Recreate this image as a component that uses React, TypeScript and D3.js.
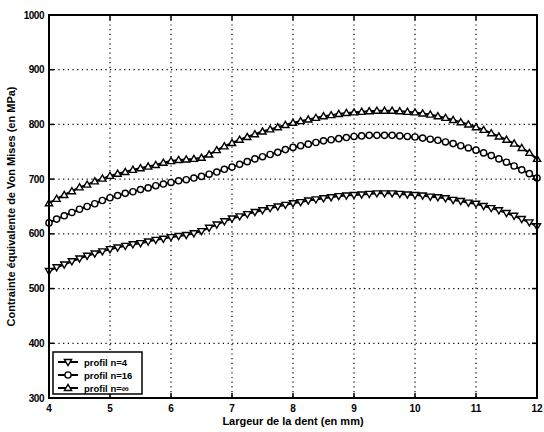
import React from "react";
import * as d3 from "d3";

const xValues: number[] = [
  4.0, 4.125, 4.25, 4.375, 4.5, 4.625, 4.75, 4.875,
  5.0, 5.125, 5.25, 5.375, 5.5, 5.625, 5.75, 5.875,
  6.0, 6.125, 6.25, 6.375, 6.5, 6.625, 6.75, 6.875,
  7.0, 7.125, 7.25, 7.375, 7.5, 7.625, 7.75, 7.875,
  8.0, 8.125, 8.25, 8.375, 8.5, 8.625, 8.75, 8.875,
  9.0, 9.125, 9.25, 9.375, 9.5, 9.625, 9.75, 9.875,
  10.0, 10.125, 10.25, 10.375, 10.5, 10.625, 10.75, 10.875,
  11.0, 11.125, 11.25, 11.375, 11.5, 11.625, 11.75, 11.875,
  12.0,
];

const profilN4: number[] = [
  532, 539, 544, 550, 555, 560, 564, 568,
  572, 575, 578, 581, 583, 586, 589, 591,
  594, 596, 598, 601, 605, 611, 617, 623,
  628, 632, 636, 640, 643, 647, 650, 653,
  656, 658, 661, 663, 665, 667, 669, 670,
  671, 672, 673, 674, 674, 674, 673, 672,
  671, 670, 668, 667, 665, 662, 660, 657,
  655, 651, 647, 643, 638, 633, 627, 621,
  614,
];

const profilN16: number[] = [
  620, 627, 633, 639, 645, 650, 655, 661,
  666, 670, 674, 677, 681, 684, 688, 691,
  694, 697, 699, 702, 705, 709, 713, 718,
  722, 727, 732, 737, 741, 745, 749, 754,
  758, 761, 764, 767, 770, 772, 774, 776,
  778, 779, 780, 780, 780, 780, 779, 778,
  777, 775, 773, 771, 768, 765, 761, 757,
  753, 748, 743, 737, 731, 724, 717, 710,
  702,
];

const profilNInf: number[] = [
  656, 664, 671, 678, 685, 690, 696, 701,
  706, 710, 713, 717, 720, 723, 726, 730,
  733, 735, 736, 737, 739, 745, 753, 760,
  766, 772, 777, 782, 787, 791, 795, 799,
  803, 806, 809, 812, 815, 817, 819, 821,
  822, 823, 824, 825, 825, 825, 824, 823,
  822, 820, 818, 815, 812, 808, 804, 800,
  795, 790, 784, 778, 772, 765, 757, 748,
  737,
];

const xTicks: number[] = [4, 5, 6, 7, 8, 9, 10, 11, 12];
const yTicks: number[] = [300, 400, 500, 600, 700, 800, 900, 1000];
const seriesLabels: string[] = ["profil n=4", "profil n=16", "profil n=\u221E"];
const markerKinds: string[] = ["down", "circle", "up"];

const W = 544;
const H = 432;
const M = { left: 49, right: 537, top: 15, bottom: 398 };
const FONT = "'Liberation Sans', Arial, Helvetica, sans-serif";

function Marker({ kind, x, y }: { kind: string; x: number; y: number }) {
  const s = 3.6;
  if (kind === "circle") {
    return <circle cx={x} cy={y} r={3.1} fill="white" stroke="black" strokeWidth={1.4} />;
  }
  const pts =
    kind === "up"
      ? [[x, y - s], [x - s, y + s * 0.7], [x + s, y + s * 0.7]]
      : [[x, y + s], [x - s, y - s * 0.7], [x + s, y - s * 0.7]];
  return (
    <polygon
      points={pts.map((p) => p.join(",")).join(" ")}
      fill="white"
      stroke="black"
      strokeWidth={1.4}
      strokeLinejoin="miter"
    />
  );
}

export default function App() {
  const x = d3.scaleLinear().domain([4, 12]).range([M.left, M.right]);
  const y = d3.scaleLinear().domain([300, 1000]).range([M.bottom, M.top]);
  const series = [profilN4, profilN16, profilNInf];
  const line = d3
    .line<number>()
    .x((_, i) => x(xValues[i]))
    .y((d) => y(d));

  return (
    <svg
      width={W}
      height={H}
      style={{ position: "absolute", left: 0, top: 0, background: "white" }}
      fontFamily={FONT}
    >
      <rect x={0} y={0} width={W} height={H} fill="white" />
      {/* grid */}
      {xTicks.slice(1, -1).map((t) => (
        <line
          key={"gx" + t}
          x1={x(t)}
          x2={x(t)}
          y1={M.top}
          y2={M.bottom}
          stroke="black"
          strokeWidth={1.2}
          strokeDasharray="1.2,3.5"
        />
      ))}
      {yTicks.slice(1, -1).map((t) => (
        <line
          key={"gy" + t}
          x1={M.left}
          x2={M.right}
          y1={y(t)}
          y2={y(t)}
          stroke="black"
          strokeWidth={1.2}
          strokeDasharray="1.2,3.5"
        />
      ))}
      {/* series */}
      {series.map((s, si) => (
        <g key={"s" + si}>
          <path d={line(s) || ""} fill="none" stroke="black" strokeWidth={2} />
          {s.map((v, i) => (
            <Marker key={i} kind={markerKinds[si]} x={x(xValues[i])} y={y(v)} />
          ))}
        </g>
      ))}
      {/* ticks */}
      {xTicks.map((t) => (
        <g key={"tx" + t}>
          <line x1={x(t)} x2={x(t)} y1={M.bottom} y2={M.bottom - 5} stroke="black" strokeWidth={1.5} />
          <line x1={x(t)} x2={x(t)} y1={M.top} y2={M.top + 5} stroke="black" strokeWidth={1.5} />
          <text
            x={x(t)}
            y={M.bottom + 14}
            textAnchor="middle"
            fontSize={10}
            fontWeight="bold"
          >
            {t}
          </text>
        </g>
      ))}
      {yTicks.map((t) => (
        <g key={"ty" + t}>
          <line x1={M.left} x2={M.left + 5} y1={y(t)} y2={y(t)} stroke="black" strokeWidth={1.5} />
          <line x1={M.right} x2={M.right - 5} y1={y(t)} y2={y(t)} stroke="black" strokeWidth={1.5} />
          <text
            x={M.left - 5}
            y={y(t) + 3.5}
            textAnchor="end"
            fontSize={10}
            fontWeight="bold"
            letterSpacing={-0.5}
          >
            {t}
          </text>
        </g>
      ))}
      {/* frame */}
      <rect
        x={M.left}
        y={M.top}
        width={M.right - M.left}
        height={M.bottom - M.top}
        fill="none"
        stroke="black"
        strokeWidth={2}
      />
      {/* axis labels */}
      <text
        x={(M.left + M.right) / 2}
        y={M.bottom + 27}
        textAnchor="middle"
        fontSize={11}
        fontWeight="bold"
      >
        Largeur de la dent (en mm)
      </text>
      <text
        transform={`translate(15,${(M.top + M.bottom) / 2}) rotate(-90)`}
        textAnchor="middle"
        fontSize={11}
        fontWeight="bold"
      >
        Contrainte équivalente de Von Mises (en MPa)
      </text>
      {/* legend */}
      <rect x={53} y={352} width={89} height={42} fill="white" stroke="black" strokeWidth={1.5} />
      {seriesLabels.map((lab, i) => {
        const ly = 362 + i * 13;
        return (
          <g key={"lg" + i}>
            <line x1={58} x2={78} y1={ly} y2={ly} stroke="black" strokeWidth={2} />
            <Marker kind={markerKinds[i]} x={68} y={ly} />
            <text x={84} y={ly + 3.5} fontSize={9.5} fontWeight="bold">
              {lab}
            </text>
          </g>
        );
      })}
    </svg>
  );
}
